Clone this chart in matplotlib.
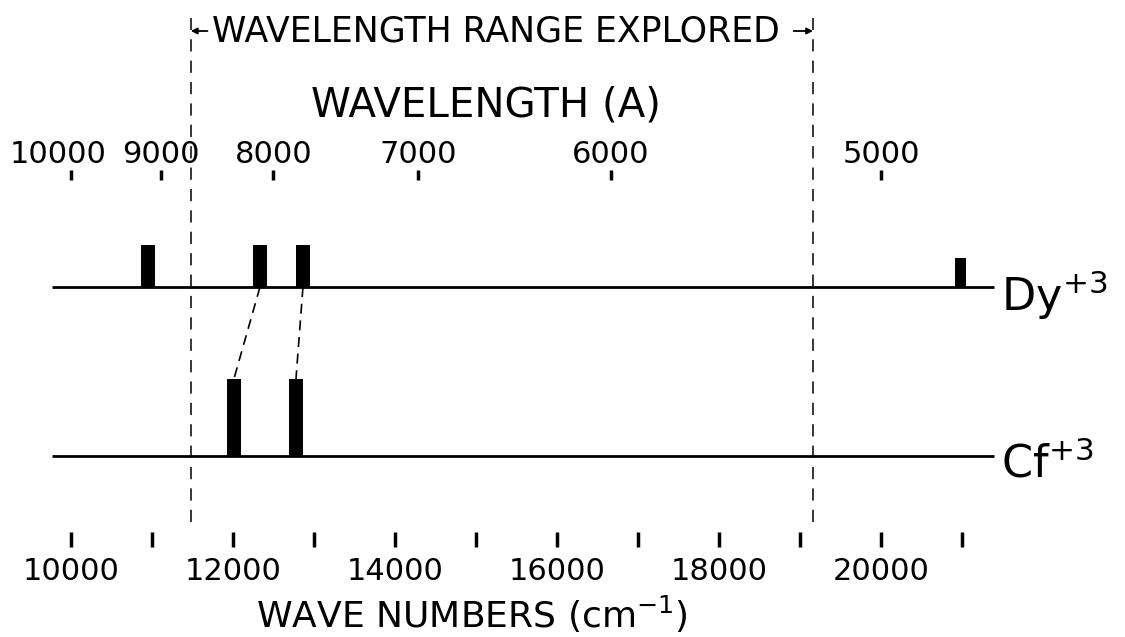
import numpy as np
import matplotlib
matplotlib.use("Agg")
import matplotlib.pyplot as plt
from matplotlib import transforms

# ---------------- data ----------------
wn_major_ticks = [10000, 12000, 14000, 16000, 18000, 20000]
wn_minor_ticks = [11000, 13000, 15000, 17000, 19000, 21000]
wl_ticks = [10000, 9000, 8000, 7000, 6000, 5000]

range_explored = [11480, 19160]          # cm^-1, dashed boundaries

dy_lines = [10950, 12333, 12864, 20975]  # cm^-1
dy_heights = [1.14, 1.14, 1.14, 0.79]
cf_lines = [12012, 12778]
cf_heights = [2.10, 2.10]
pairs = [(1, 0), (2, 1)]                 # Dy index -> Cf index correspondence

line_start, line_end = 9765, 21395

# ---------------- layout ----------------
W, H = 1125, 637
fig = plt.figure(figsize=(W / 100, H / 100), dpi=100)
fig.patch.set_facecolor("white")

def fy(p):  # pixel from top -> figure fraction
    return (H - p) / H

def fx(p):
    return p / W

ax_bottom_px, ax_top_px = 547, 180
ax = fig.add_axes([0, fy(ax_bottom_px), 1, (ax_bottom_px - ax_top_px) / H])
ax.set_xlim(9125, 23010)
ax.set_ylim(0, 10)
for s in ax.spines.values():
    s.set_visible(False)
ax.set_yticks([])

DY_BASE, CF_BASE = 7.08, 2.48
dy_widths = [170, 170, 170, 135]
cf_widths = [175, 175]

# baselines
ax.plot([line_start, line_end], [DY_BASE, DY_BASE], color="black", lw=2.0,
        solid_capstyle="butt")
ax.plot([line_start, line_end], [CF_BASE, CF_BASE], color="black", lw=2.0,
        solid_capstyle="butt")

ax.bar(dy_lines, dy_heights, width=dy_widths, bottom=DY_BASE, color="black")
ax.bar(cf_lines, cf_heights, width=cf_widths, bottom=CF_BASE, color="black")

for i, j in pairs:
    ax.plot([dy_lines[i], cf_lines[j]], [DY_BASE, CF_BASE + cf_heights[j]],
            color="black", lw=1.2, dashes=(6, 4))

# dashed range boundaries
for xv in range_explored:
    ax.plot([xv, xv], [0.68, 14.41], color="black", lw=1.1, dashes=(8, 6),
            clip_on=False)

# row labels
ax.annotate("Dy$^{+3}$", xy=(line_end, DY_BASE), xytext=(5, -6),
            textcoords="offset points", ha="left", va="center", fontsize=32)
ax.annotate("Cf$^{+3}$", xy=(line_end, CF_BASE), xytext=(5, -6),
            textcoords="offset points", ha="left", va="center", fontsize=32)

# bottom axis (wave numbers)
ax.set_xticks(wn_major_ticks)
ax.set_xticklabels([str(v) for v in wn_major_ticks])
ax.set_xticks(wn_minor_ticks, minor=True)
ax.tick_params(axis="x", which="both", direction="in", length=10.8, width=2.5,
               pad=7, labelsize=22, color="black")

# top axis (wavelength)
def inv(x):
    x = np.asarray(x, dtype=float)
    with np.errstate(divide="ignore"):
        return 1e8 / x

sec = ax.secondary_xaxis("top", functions=(inv, inv))
sec.set_xticks(wl_ticks)
sec.set_xticklabels([str(v) for v in wl_ticks])
sec.tick_params(axis="x", direction="out", length=7.2, width=2.5, pad=1,
                labelsize=22)
for s in sec.spines.values():
    s.set_visible(False)
# nudge the first wavelength label left, as in the original lettering
first = sec.xaxis.get_major_ticks()[0]
shift = transforms.ScaledTranslation(-9 / 72, 0, fig.dpi_scale_trans)
for lbl in (first.label1, first.label2):
    lbl.set_transform(lbl.get_transform() + shift)

# texts
fig.text(fx(486), fy(117), "WAVELENGTH (A)", ha="center", va="baseline",
         fontsize=29)
fig.text(fx(496), fy(42), "WAVELENGTH RANGE EXPLORED", ha="center",
         va="baseline", fontsize=25)
fig.text(fx(472), fy(628), "WAVE NUMBERS (cm$^{-1}$)", ha="center",
         va="baseline", fontsize=26)

# small arrows to the range boundaries
tr = transforms.blended_transform_factory(ax.transData, fig.transFigure)
yarr = fy(31)
ax.annotate("", xy=(range_explored[0], yarr), xycoords=tr,
            xytext=(12, 0), textcoords="offset points",
            arrowprops=dict(arrowstyle="-|>", color="black", lw=1.3,
                            mutation_scale=9, shrinkA=0, shrinkB=0))
ax.annotate("", xy=(range_explored[1], yarr), xycoords=tr,
            xytext=(-14, 0), textcoords="offset points",
            arrowprops=dict(arrowstyle="-|>", color="black", lw=1.3,
                            mutation_scale=9, shrinkA=0, shrinkB=0))

fig.savefig("out.png", dpi=100, facecolor="white")
